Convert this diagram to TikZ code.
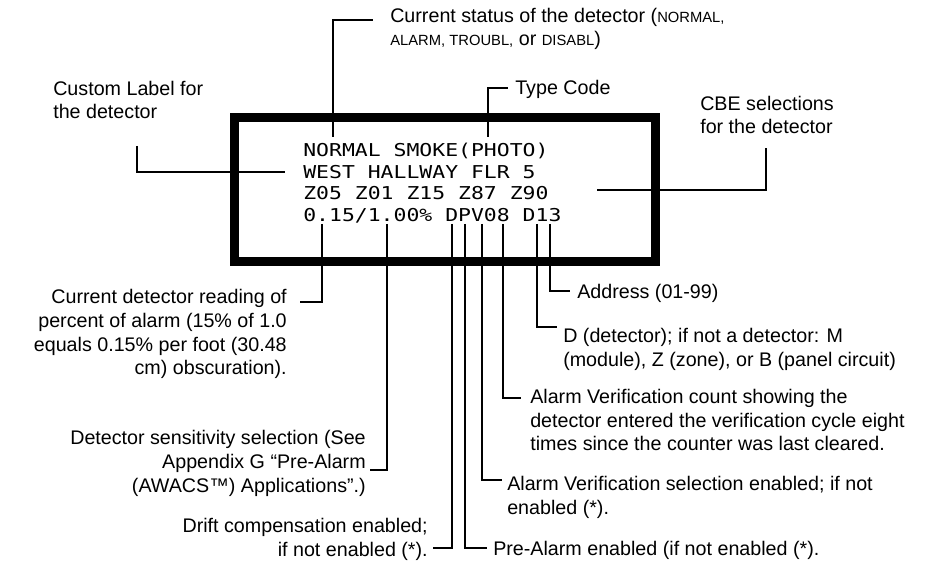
\documentclass[tikz,border=0pt]{standalone}
\usepackage{fontspec}
\setmainfont{Liberation Sans}
\newfontfamily\lcdfont[FakeStretch=1.21]{DejaVu Sans Mono}
\usetikzlibrary{calc,positioning}
\newcommand{\stword}[1]{{\fontsize{10.5}{17}\selectfont #1}}
\tikzset{
  lcdframe/.style={rectangle,draw=black,line width=6.4pt,inner sep=0pt},
  lcdrow/.style={anchor=base west,inner sep=0pt,
    font=\lcdfont\fontsize{12.6}{15}\selectfont},
  callout/.style={inner sep=0pt,font=\fontsize{14}{17}\selectfont},
  calloutL/.style={callout,anchor=base west,align=left},
  calloutR/.style={callout,anchor=base east,align=right},
  leader/.style={draw=black,line width=1pt}
}

\begin{document}
\begin{tikzpicture}[x=0.025cm,y=-0.025cm]
  \useasboundingbox (0,0) rectangle (943,564);

  % display
  \node[lcdframe,minimum width=10.5cm,minimum height=3.575cm] (lcd) at (445,189.5) {};
  \node[lcdrow] (row1) at (303,157) {NORMAL SMOKE(PHOTO)};
  \node[lcdrow] (row2) at (303,178.5) {WEST HALLWAY FLR 5};
  \node[lcdrow] (row3) at (303,200) {Z05 Z01 Z15 Z87 Z90};
  \node[lcdrow] (row4) at (303,221.5) {0.15/1.00\% DPV08 D13};

  % leader ends
  \coordinate (tStatus) at (333,137);
  \coordinate (eStatus) at (373,20);
  \coordinate (tType) at (488,137);
  \coordinate (eType) at (508,88);
  \coordinate (sCustom) at (137,146);
  \coordinate (eCustom) at (285,172);
  \coordinate (sCBE) at (766,148);
  \coordinate (eCBE) at (597,190);
  \coordinate (tReading) at (322,224);
  \coordinate (eReading) at (300,302);
  \coordinate (tSens) at (387,224);
  \coordinate (eSens) at (370,470);
  \coordinate (tDrift) at (452,224);
  \coordinate (eDrift) at (433,548);
  \coordinate (tPre) at (465,224);
  \coordinate (ePre) at (487,548);
  \coordinate (tVerif) at (482,224);
  \coordinate (eVerif) at (502,480);
  \coordinate (tCount) at (503,224);
  \coordinate (eCount) at (521,398);
  \coordinate (tKind) at (537,224);
  \coordinate (eKind) at (557,327);
  \coordinate (tAddr) at (550,224);
  \coordinate (eAddr) at (570,291);

  % callouts (base = last line)
  \node[calloutL] (status) at ($(eStatus)+(17,26)$)
    {Current status of the detector (\stword{NORMAL,}\\
     \stword{ALARM, TROUBL,} or \stword{DISABL})};
  \node[calloutL] (typecode) at ($(eType)+(7,7)$) {Type Code};
  \node[calloutL] (custom) at (53,119) {Custom Label for\\the detector};
  \node[calloutL] (cbe) at (700,134) {CBE selections\\for the detector};
  \node[calloutR] (reading) at ($(eReading)+(-13,73)$)
    {Current detector reading of\\
     percent of alarm (15\% of 1.0\\
     equals 0.15\% per foot (30.48\\
     cm) obscuration).};
  \node[calloutR] (sens) at ($(eSens)+(-4,22)$)
    {Detector sensitivity selection (See\\
     Appendix G “Pre-Alarm\\
     (AWACS™) Applications”.)};
  \node[calloutR] (drift) at ($(eDrift)+(-5,8)$)
    {Drift compensation enabled;\\if not enabled (*).};
  \node[calloutL] (prealarm) at ($(ePre)+(6,7)$)
    {Pre-Alarm enabled (if not enabled (*).};
  \node[calloutL] (verif) at ($(eVerif)+(5,34)$)
    {Alarm Verification selection enabled; if not\\enabled (*).};
  \node[calloutL] (count) at ($(eCount)+(9,53)$)
    {Alarm Verification count showing the\\
     detector entered the verification cycle eight\\
     times since the counter was last cleared.};
  \node[calloutL] (kind) at ($(eKind)+(6,39)$)
    {D (detector); if not a detector: M\\
     (module), Z (zone), or B (panel circuit)};
  \node[calloutL] (address) at ($(eAddr)+(7,8)$) {Address (01-99)};

  % leaders
  \draw[leader] (tStatus) |- (eStatus);
  \draw[leader] (tType) |- (eType);
  \draw[leader] (sCustom) |- (eCustom);
  \draw[leader] (eCBE) -| (sCBE);
  \draw[leader] (tReading) |- (eReading);
  \draw[leader] (tSens) |- (eSens);
  \draw[leader] (tDrift) |- (eDrift);
  \draw[leader] (tPre) |- (ePre);
  \draw[leader] (tVerif) |- (eVerif);
  \draw[leader] (tCount) |- (eCount);
  \draw[leader] (tKind) |- (eKind);
  \draw[leader] (tAddr) |- (eAddr);
\end{tikzpicture}
\end{document}
